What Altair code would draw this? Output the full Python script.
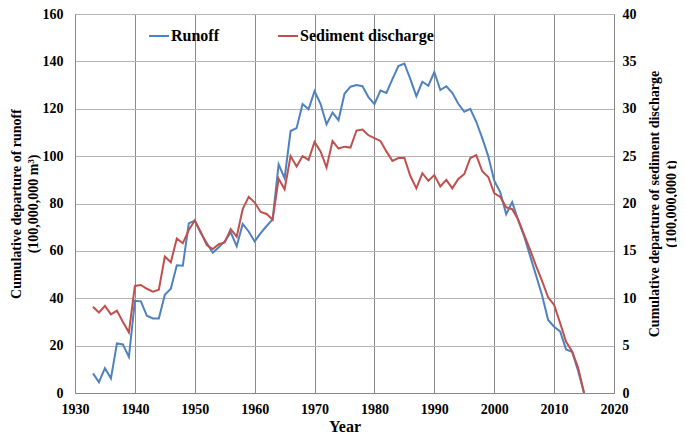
import altair as alt
import pandas as pd

years = list(range(1933, 2016))

runoff = [8.3, 4.6, 10.5, 6.2, 20.9, 20.5, 15.2, 38.9, 38.7, 32.6,
          31.5, 31.5, 41.5, 44.0, 53.9, 53.7, 71.6, 72.8, 67.5, 63.3,
          59.2, 61.5, 64.0, 67.8, 62.0, 71.4, 68.2, 64.0, 67.5, 70.5,
          73.3, 96.5, 90.7, 110.6, 111.8, 122.0, 119.8, 127.4, 122.1, 113.4,
          118.4, 115.2, 126.3, 129.3, 130.0, 129.5, 124.9, 121.9, 127.7, 126.7,
          132.5, 138.0, 139.1, 132.5, 125.3, 131.4, 129.7, 135.5, 127.9, 129.5,
          126.7, 122.1, 118.7, 120.0, 114.5, 107.6, 100.0, 89.6, 84.8, 75.5,
          80.6, 73.0, 66.1, 57.8, 49.5, 41.2, 30.8, 28.0, 26.0, 18.4,
          17.4, 9.4, 0.0]

sediment = [9.1, 8.5, 9.2, 8.3, 8.7, 7.5, 6.4, 11.3, 11.4, 11.0,
            10.7, 10.9, 14.4, 13.8, 16.3, 15.8, 17.2, 18.2, 17.0, 15.6,
            15.2, 15.7, 15.9, 17.3, 16.5, 19.4, 20.7, 20.1, 19.1, 18.9,
            18.3, 22.6, 21.5, 25.0, 23.9, 25.0, 24.6, 26.5, 25.5, 23.8,
            26.6, 25.8, 26.0, 25.9, 27.7, 27.8, 27.2, 26.9, 26.6, 25.5,
            24.5, 24.8, 24.8, 22.9, 21.6, 23.2, 22.4, 23.0, 21.8, 22.5,
            21.6, 22.6, 23.1, 24.8, 25.1, 23.4, 22.8, 21.1, 20.7, 19.6,
            19.4, 18.3, 16.7, 15.1, 13.4, 11.8, 10.1, 9.3, 7.4, 5.4,
            4.4, 2.7, 0.0]

series_names = ["Runoff", "Sediment discharge"]
series_colors = ["#4F81BD", "#C0504D"]

df = pd.concat([
    pd.DataFrame({"Year": years, "value": runoff, "series": series_names[0]}),
    pd.DataFrame({"Year": years, "value": sediment, "series": series_names[1]}),
])

FONT = "Liberation Serif"

color = alt.Color(
    "series:N",
    scale=alt.Scale(domain=series_names, range=series_colors),
    legend=alt.Legend(
        title=None, orient="none", legendX=73, legendY=11, direction="horizontal",
        symbolType="stroke", symbolStrokeWidth=2, symbolSize=400,
        labelFont=FONT, labelFontSize=16, labelFontWeight="bold", labelColor="black",
        columnPadding=54, labelOffset=1, padding=0,
    ),
)

x = alt.X(
    "Year:Q",
    scale=alt.Scale(domain=[1930, 2020], nice=False, zero=False),
    axis=alt.Axis(
        values=list(range(1930, 2021, 10)), format="d", title="Year",
        labelFont=FONT, labelFontSize=14, labelFontWeight="bold", labelColor="black",
        titleFont=FONT, titleFontSize=16, titleFontWeight="bold", titleColor="black",
        labelPadding=9, titlePadding=2, ticks=False, domainColor="#888",
        labelFlush=False, labelOverlap=False,
        grid=True, gridColor="#8a8a8a", gridWidth=1,
    ),
)

left = alt.Chart(df).transform_filter(
    alt.datum.series == series_names[0]
).mark_line(strokeWidth=2).encode(
    x=x,
    y=alt.Y(
        "value:Q",
        scale=alt.Scale(domain=[0, 160], nice=False),
        axis=alt.Axis(
            values=list(range(0, 161, 20)),
            title=["Cumulative departure of runoff", "(100,000,000 m³)"],
            labelFont=FONT, labelFontSize=14, labelFontWeight="bold", labelColor="black",
            titleFont=FONT, titleFontSize=14, titleFontWeight="bold", titleColor="black",
            titleLineHeight=17,
            labelPadding=12, titlePadding=2, ticks=False, domainColor="#888",
            labelFlush=False, labelOverlap=False,
            grid=True, gridColor="#b5b5b5", gridWidth=1,
        ),
    ),
    color=color,
)

right = alt.Chart(df).transform_filter(
    alt.datum.series == series_names[1]
).mark_line(strokeWidth=2).encode(
    x=x,
    y=alt.Y(
        "value:Q",
        scale=alt.Scale(domain=[0, 40], nice=False),
        axis=alt.Axis(
            orient="right",
            values=list(range(0, 41, 5)),
            title=["Cumulative departure of sediment discharge", "(100,000,000 t)"],
            labelFont=FONT, labelFontSize=14, labelFontWeight="bold", labelColor="black",
            titleFont=FONT, titleFontSize=14, titleFontWeight="bold", titleColor="black",
            titleLineHeight=17, titleAngle=270,
            labelPadding=8, titlePadding=8, ticks=False, domainColor="#888",
            labelFlush=False, labelOverlap=False,
            grid=False,
        ),
    ),
    color=color,
)

chart = alt.layer(left, right).resolve_scale(y="independent").properties(
    width=539, height=379,
    autosize=alt.AutoSizeParams(type="none"),
    padding={"left": 67, "top": 6, "right": 63, "bottom": 41},
).configure_view(stroke="#888", strokeWidth=1).configure(background="white")

chart.save("out.html", embed_options={"renderer": "svg", "actions": False})
